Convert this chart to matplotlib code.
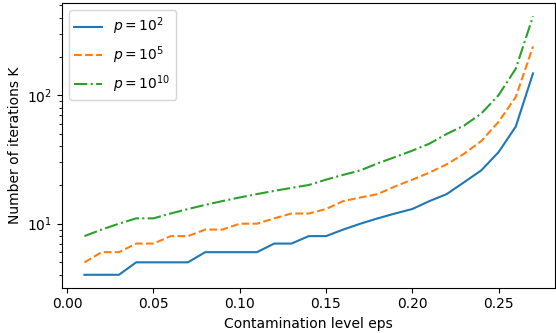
import matplotlib
matplotlib.use("Agg")
import matplotlib.pyplot as plt

eps = [0.01, 0.02, 0.03, 0.04, 0.05, 0.06, 0.07, 0.08, 0.09, 0.10, 0.11, 0.12, 0.13, 0.14,
       0.15, 0.16, 0.17, 0.18, 0.19, 0.20, 0.21, 0.22, 0.23, 0.24, 0.25, 0.26, 0.27]
k_p2 = [4, 4, 4, 5, 5, 5, 5, 6, 6, 6, 6, 7, 7, 8, 8, 9, 10, 11, 12, 13, 15, 17, 21, 26, 36, 57, 148]
k_p5 = [5, 6, 6, 7, 7, 8, 8, 9, 9, 10, 10, 11, 12, 12, 13, 15, 16, 17, 19.5, 22, 25, 29, 35, 44, 62, 97, 240]
k_p10 = [8, 9, 10, 11, 11, 12, 13, 14, 15, 16, 17, 18, 19, 20, 22, 24, 26, 29.5, 33, 37, 42, 50, 58, 72, 100, 161, 412]
labels = [r"$p = 10^{2}$", r"$p = 10^{5}$", r"$p = 10^{10}$"]

fig = plt.figure(figsize=(5.56, 3.33), dpi=100)
ax = fig.add_axes([0.1115, 0.136, 0.8875, 0.854])
ax.plot(eps, k_p2, '-', color='#1f77b4', label=labels[0])
ax.plot(eps, k_p5, '--', color='#ff7f0e', label=labels[1])
ax.plot(eps, k_p10, '-.', color='#2ca02c', label=labels[2])
ax.set_yscale('log')
ax.set_xlabel("Contamination level eps")
ax.set_ylabel("Number of iterations K")
ax.legend(loc='upper left')
fig.savefig("out.png", dpi=100)
